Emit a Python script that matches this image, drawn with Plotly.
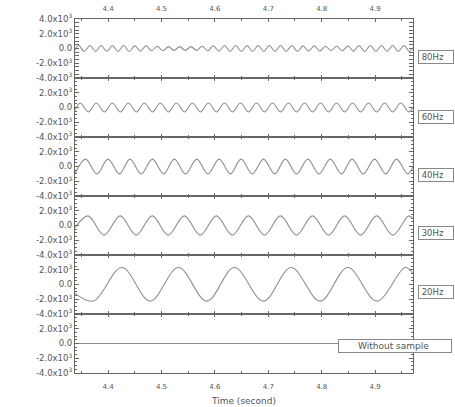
import plotly.graph_objects as go
from plotly.subplots import make_subplots

# ---- data (times of turning points, values in units of 10^3) ----
t80 = [4.3380, 4.3450, 4.3555, 4.3660, 4.3765, 4.3870, 4.3975, 4.4080, 4.4185, 4.4290, 4.4395,
       4.4500, 4.4605, 4.4710, 4.4815, 4.4920, 4.5025, 4.5130, 4.5235, 4.5340, 4.5445,
       4.5550, 4.5655, 4.5760, 4.5865, 4.5970, 4.6075, 4.6180, 4.6285, 4.6390, 4.6495,
       4.6600, 4.6705, 4.6810, 4.6915, 4.7020, 4.7125, 4.7230, 4.7335, 4.7440, 4.7545,
       4.7650, 4.7755, 4.7860, 4.7965, 4.8070, 4.8175, 4.8280, 4.8385, 4.8490, 4.8595,
       4.8700, 4.8805, 4.8910, 4.9015, 4.9120, 4.9225, 4.9330, 4.9435, 4.9540, 4.9645, 4.9710]
v80 = [-0.2, 0.4, -0.4, 0.4, -0.4, 0.4, -0.4, 0.4, -0.4, 0.4, -0.4,
       0.35, -0.35, 0.35, -0.3, 0.3, -0.3, 0.25, -0.25, 0.25, -0.25,
       0.25, -0.25, 0.3, -0.3, 0.35, -0.35, 0.4, -0.4, 0.4, -0.4,
       0.4, -0.4, 0.4, -0.4, 0.4, -0.4, 0.4, -0.4, 0.4, -0.4,
       0.35, -0.35, 0.35, -0.35, 0.3, -0.3, 0.3, -0.3, 0.35, -0.35,
       0.4, -0.4, 0.4, -0.4, 0.4, -0.4, 0.4, -0.4, 0.4, -0.4, 0.15]

t60 = [4.338, 4.348, 4.363, 4.378, 4.393, 4.408, 4.423, 4.438, 4.453, 4.468, 4.483, 4.498,
       4.513, 4.528, 4.543, 4.558, 4.573, 4.588, 4.603, 4.618, 4.633, 4.648, 4.663,
       4.678, 4.693, 4.708, 4.723, 4.738, 4.753, 4.768, 4.783, 4.798, 4.813, 4.828,
       4.843, 4.858, 4.873, 4.888, 4.903, 4.918, 4.933, 4.948, 4.963, 4.971]
v60 = [-0.3, 0.6, -0.6, 0.6, -0.6, 0.6, -0.6, 0.6, -0.6, 0.6, -0.6, 0.6,
       -0.6, 0.6, -0.6, 0.6, -0.6, 0.6, -0.6, 0.6, -0.6, 0.6, -0.6,
       0.6, -0.6, 0.6, -0.6, 0.6, -0.6, 0.6, -0.6, 0.6, -0.6, 0.6,
       -0.6, 0.6, -0.6, 0.6, -0.6, 0.6, -0.6, 0.6, -0.6, 0.05]

t40 = [4.338, 4.358, 4.379, 4.400, 4.421, 4.441, 4.462, 4.483, 4.504, 4.524, 4.545,
       4.566, 4.587, 4.608, 4.629, 4.649, 4.670, 4.691, 4.712, 4.732, 4.753,
       4.774, 4.795, 4.816, 4.837, 4.857, 4.878, 4.899, 4.920, 4.940, 4.961, 4.971]
v40 = [-0.95, 1.0, -1.0, 1.0, -1.0, 1.0, -1.0, 1.0, -1.0, 1.0, -1.0,
       1.0, -1.0, 1.0, -1.0, 1.0, -1.0, 1.0, -1.0, 1.0, -1.0,
       1.0, -1.0, 1.0, -1.0, 1.0, -1.0, 1.0, -1.0, 1.0, -1.0, 0.0]

t30 = [4.3380, 4.3625, 4.3925, 4.4226, 4.4526, 4.4826, 4.5126, 4.5427, 4.5727, 4.6027,
       4.6327, 4.6628, 4.6928, 4.7228, 4.7528, 4.7829, 4.8129, 4.8429, 4.8729, 4.9030,
       4.9330, 4.9630, 4.9710]
v30 = [-0.3, 1.3, -1.3, 1.3, -1.3, 1.3, -1.3, 1.3, -1.3, 1.3,
       -1.3, 1.3, -1.3, 1.3, -1.3, 1.3, -1.3, 1.3, -1.3, 1.3,
       -1.3, 1.3, 0.9]

t20 = [4.3380, 4.3725, 4.4257, 4.4787, 4.5317, 4.5848, 4.6365, 4.6908, 4.7427,
       4.7970, 4.8489, 4.9032, 4.9562, 4.9710]
v20 = [-1.2, -2.25, 2.3, -2.25, 2.3, -2.25, 2.3, -2.25, 2.3,
       -2.25, 2.3, -2.25, 2.3, 1.5]

t0 = [4.338, 4.971]
v0 = [0.0, 0.0]

labels = ["80Hz", "60Hz", "40Hz", "30Hz", "20Hz", "Without sample"]
series = [(t80, v80), (t60, v60), (t40, v40), (t30, v30), (t20, v20), (t0, v0)]

x_ticks = [4.4, 4.5, 4.6, 4.7, 4.8, 4.9]
y_ticks = [4, 2, 0, -2, -4]
y_ticktext = ["4.0x10<sup>3</sup>", "2.0x10<sup>3</sup>", "0.0",
              "-2.0x10<sup>3</sup>", "-4.0x10<sup>3</sup>"]
x_range = [4.338, 4.971]

# ---- figure ----
FONT = "DejaVu Sans"
TXT = "#555555"
AX = "#666666"

fig = make_subplots(rows=6, cols=1, shared_xaxes=True, vertical_spacing=0)

for i, (t, v) in enumerate(series, start=1):
    fig.add_trace(go.Scatter(x=t, y=v, mode="lines",
                             line=dict(color="#8f8f8f", width=1.1, shape="spline", smoothing=1.0),
                             showlegend=False, hoverinfo="skip"), row=i, col=1)

for i in range(1, 7):
    fig.update_xaxes(range=x_range, tickvals=x_ticks, ticktext=[f"{v:.1f}" for v in x_ticks],
                     showline=True, linecolor=AX, linewidth=1.2, mirror="allticks",
                     ticks="inside", ticklen=3, tickcolor=AX, showgrid=False, zeroline=False,
                     minor=dict(dtick=0.05, tick0=4.4, ticks="inside", ticklen=2, tickcolor=AX),
                     tickfont=dict(family=FONT, size=7, color=TXT), ticklabelstandoff=6,
                     automargin=False, row=i, col=1)
    if i == 1:
        tv, tt = y_ticks, y_ticktext
    else:
        tv, tt = y_ticks[1:], y_ticktext[1:]
    fig.update_yaxes(range=[-4, 4], tickmode="array", tickvals=tv, ticktext=tt,
                     showline=True, linecolor=AX, linewidth=1.2, mirror="allticks",
                     ticks="inside", ticklen=4, tickcolor=AX, showgrid=False, zeroline=False,
                     minor=dict(dtick=0.5, tick0=0, ticks="inside", ticklen=2, tickcolor=AX),
                     tickfont=dict(family=FONT, size=8.5, color=TXT),
                     automargin=False, row=i, col=1)

fig.update_xaxes(title=dict(text="Time (second)", font=dict(family=FONT, size=9, color=TXT),
                            standoff=8), row=6, col=1)

# top tick labels
fig.add_trace(go.Scatter(x=[], y=[], xaxis="x7", yaxis="y", showlegend=False))
fig.update_layout(xaxis7=dict(overlaying="x", side="top", anchor="y", range=x_range,
                              tickvals=x_ticks, ticktext=[f"{v:.1f}" for v in x_ticks],
                              ticks="", showline=False, showgrid=False, zeroline=False,
                              ticklabelstandoff=6, automargin=False,
                              tickfont=dict(family=FONT, size=7, color=TXT)))

# legend boxes
L, R, T, B = 75, 413, 19, 373
box_y = [57, 117, 175, 233, 292, 346]
box_x = [418, 418, 418, 418, 418, 338]
box_w = [32, 32, 32, 32, 32, 110]
for lab, bx, by, bw in zip(labels, box_x, box_y, box_w):
    if lab == "Without sample":
        text = "\u2003\u2003" + lab
        fs = 9
    else:
        text = "\u2009" + lab
        fs = 8.5
    fig.add_annotation(x=(bx - L) / (R - L), y=(B - by) / (B - T), xref="paper", yref="paper",
                       xanchor="left", yanchor="middle", showarrow=False, width=bw,
                       text=text, font=dict(family=FONT, size=fs, color=TXT),
                       bordercolor="#888888", borderwidth=1, borderpad=1, bgcolor="white",
                       align="left")

fig.update_layout(width=455, height=407, margin=dict(l=L, r=455 - R, t=T, b=407 - B),
                  paper_bgcolor="white", plot_bgcolor="white")

fig.write_html("out.html")
